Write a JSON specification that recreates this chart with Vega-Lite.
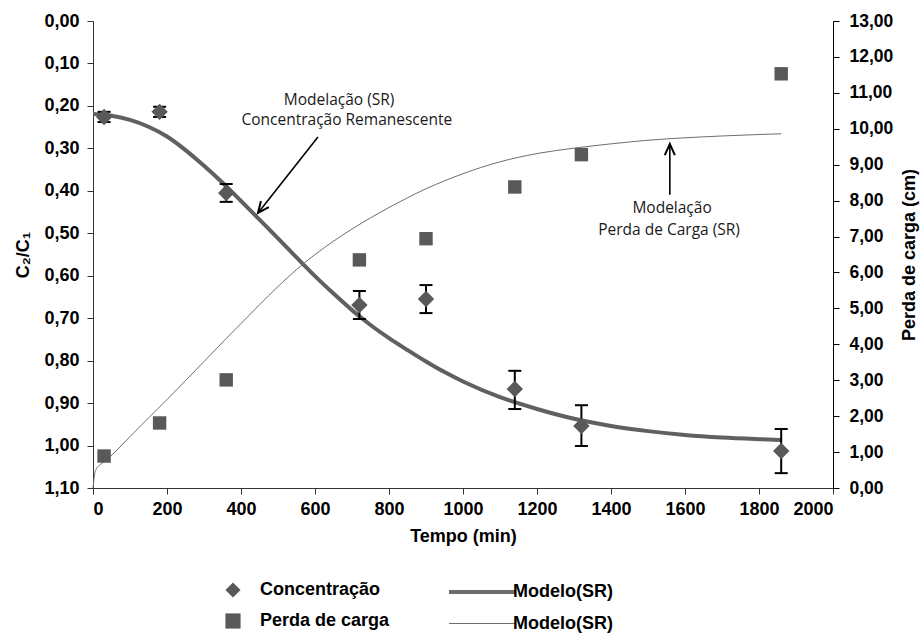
{
  "$schema": "https://vega.github.io/schema/vega-lite/v6.json",
  "width": 740,
  "height": 467,
  "autosize": "none",
  "padding": {"left": 93, "top": 21, "right": 91, "bottom": 146},
  "background": "white",
  "config": {
    "view": {"stroke": null},
    "axis": {
      "grid": false,
      "labelFont": "Liberation Sans",
      "labelFontWeight": "bold",
      "labelFontSize": 18,
      "labelColor": "black",
      "labelOverlap": false,
      "labelSeparation": -30,
      "titleFont": "Liberation Sans",
      "titleFontWeight": "bold",
      "titleFontSize": 18,
      "titleColor": "black",
      "domainColor": "#333333",
      "tickColor": "#333333",
      "tickSize": 6
    },
    "axisRight": {"labelOverlap": false, "labelSeparation": -30}
  },
  "datasets": {
    "conc": [
      {"t": 30, "c": 0.226, "lo": 0.214, "hi": 0.238, "serie": "Concentração"},
      {"t": 180, "c": 0.214, "lo": 0.202, "hi": 0.226, "serie": "Concentração"},
      {"t": 360, "c": 0.405, "lo": 0.384, "hi": 0.426, "serie": "Concentração"},
      {"t": 720, "c": 0.669, "lo": 0.636, "hi": 0.702, "serie": "Concentração"},
      {"t": 900, "c": 0.655, "lo": 0.622, "hi": 0.688, "serie": "Concentração"},
      {"t": 1140, "c": 0.867, "lo": 0.824, "hi": 0.914, "serie": "Concentração"},
      {"t": 1320, "c": 0.954, "lo": 0.905, "hi": 1.001, "serie": "Concentração"},
      {"t": 1860, "c": 1.013, "lo": 0.961, "hi": 1.065, "serie": "Concentração"}
    ],
    "perda": [
      {"t": 30, "p": 0.89, "serie": "Perda de carga"},
      {"t": 180, "p": 1.81, "serie": "Perda de carga"},
      {"t": 360, "p": 3.01, "serie": "Perda de carga"},
      {"t": 720, "p": 6.35, "serie": "Perda de carga"},
      {"t": 900, "p": 6.94, "serie": "Perda de carga"},
      {"t": 1140, "p": 8.38, "serie": "Perda de carga"},
      {"t": 1320, "p": 9.28, "serie": "Perda de carga"},
      {"t": 1860, "p": 11.53, "serie": "Perda de carga"}
    ],
    "modc": [
      {"t": 0, "c": 0.219, "modelo": "mc"},
      {"t": 50, "c": 0.223, "modelo": "mc"},
      {"t": 100, "c": 0.233, "modelo": "mc"},
      {"t": 150, "c": 0.249, "modelo": "mc"},
      {"t": 200, "c": 0.272, "modelo": "mc"},
      {"t": 250, "c": 0.304, "modelo": "mc"},
      {"t": 300, "c": 0.341, "modelo": "mc"},
      {"t": 350, "c": 0.381, "modelo": "mc"},
      {"t": 400, "c": 0.424, "modelo": "mc"},
      {"t": 450, "c": 0.468, "modelo": "mc"},
      {"t": 500, "c": 0.512, "modelo": "mc"},
      {"t": 550, "c": 0.557, "modelo": "mc"},
      {"t": 600, "c": 0.601, "modelo": "mc"},
      {"t": 650, "c": 0.642, "modelo": "mc"},
      {"t": 700, "c": 0.681, "modelo": "mc"},
      {"t": 750, "c": 0.716, "modelo": "mc"},
      {"t": 800, "c": 0.747, "modelo": "mc"},
      {"t": 850, "c": 0.775, "modelo": "mc"},
      {"t": 900, "c": 0.802, "modelo": "mc"},
      {"t": 950, "c": 0.827, "modelo": "mc"},
      {"t": 1000, "c": 0.849, "modelo": "mc"},
      {"t": 1100, "c": 0.886, "modelo": "mc"},
      {"t": 1200, "c": 0.914, "modelo": "mc"},
      {"t": 1300, "c": 0.937, "modelo": "mc"},
      {"t": 1400, "c": 0.954, "modelo": "mc"},
      {"t": 1500, "c": 0.966, "modelo": "mc"},
      {"t": 1600, "c": 0.975, "modelo": "mc"},
      {"t": 1700, "c": 0.981, "modelo": "mc"},
      {"t": 1800, "c": 0.985, "modelo": "mc"},
      {"t": 1860, "c": 0.987, "modelo": "mc"}
    ],
    "modp": [
      {"t": 0, "p": 0.0, "modelo": "mp"},
      {"t": 4, "p": 0.35, "modelo": "mp"},
      {"t": 10, "p": 0.55, "modelo": "mp"},
      {"t": 20, "p": 0.65, "modelo": "mp"},
      {"t": 46, "p": 0.87, "modelo": "mp"},
      {"t": 100, "p": 1.43, "modelo": "mp"},
      {"t": 150, "p": 1.95, "modelo": "mp"},
      {"t": 200, "p": 2.46, "modelo": "mp"},
      {"t": 250, "p": 2.99, "modelo": "mp"},
      {"t": 300, "p": 3.52, "modelo": "mp"},
      {"t": 361, "p": 4.17, "modelo": "mp"},
      {"t": 400, "p": 4.58, "modelo": "mp"},
      {"t": 450, "p": 5.1, "modelo": "mp"},
      {"t": 500, "p": 5.61, "modelo": "mp"},
      {"t": 550, "p": 6.08, "modelo": "mp"},
      {"t": 600, "p": 6.5, "modelo": "mp"},
      {"t": 650, "p": 6.87, "modelo": "mp"},
      {"t": 700, "p": 7.21, "modelo": "mp"},
      {"t": 750, "p": 7.52, "modelo": "mp"},
      {"t": 800, "p": 7.81, "modelo": "mp"},
      {"t": 850, "p": 8.08, "modelo": "mp"},
      {"t": 900, "p": 8.33, "modelo": "mp"},
      {"t": 950, "p": 8.55, "modelo": "mp"},
      {"t": 1000, "p": 8.75, "modelo": "mp"},
      {"t": 1100, "p": 9.08, "modelo": "mp"},
      {"t": 1200, "p": 9.31, "modelo": "mp"},
      {"t": 1300, "p": 9.46, "modelo": "mp"},
      {"t": 1400, "p": 9.58, "modelo": "mp"},
      {"t": 1500, "p": 9.68, "modelo": "mp"},
      {"t": 1600, "p": 9.75, "modelo": "mp"},
      {"t": 1700, "p": 9.8, "modelo": "mp"},
      {"t": 1800, "p": 9.84, "modelo": "mp"},
      {"t": 1860, "p": 9.86, "modelo": "mp"}
    ],
    "notesL": [
      {"t": 665, "c": 0.186, "label": "Modelação (SR)"},
      {"t": 686, "c": 0.233, "label": "Concentração Remanescente"}
    ],
    "arrowL": [{"t": 608, "c": 0.273, "t2": 446, "c2": 0.452}],
    "notesR": [
      {"t": 1565, "p": 7.8, "label": "Modelação"},
      {"t": 1557, "p": 7.19, "label": "Perda de Carga (SR)"}
    ],
    "arrowR": [{"t": 1559, "p": 8.16, "t2": 1559, "p2": 9.58}]
  },
  "layer": [
    {
      "layer": [
        {
          "data": {"name": "modc"},
          "mark": {"type": "line", "color": "#5f6062", "interpolate": "monotone"},
          "encoding": {
            "x": {"field": "t", "type": "quantitative", "scale": {"domain": [0, 2000], "nice": false},
              "axis": {"orient": "bottom", "values": [0, 200, 400, 600, 800, 1000, 1200, 1400, 1600, 1800, 2000], "format": "d", "title": "Tempo (min)", "labelPadding": 6, "titlePadding": 9, "labelOverlap": false}},
            "y": {"field": "c", "type": "quantitative", "scale": {"domain": [0, 1.1], "reverse": true, "nice": false, "zero": false},
              "axis": {"orient": "left", "values": [0, 0.1, 0.2, 0.3, 0.4, 0.5, 0.6, 0.7, 0.8, 0.9, 1.0, 1.1], "labelExpr": "replace(format(datum.value, '.2f'), '.', ',')", "title": "C₂/C₁", "labelPadding": 8, "titlePadding": 11, "labelOverlap": false}},
            "strokeWidth": {"field": "modelo", "type": "nominal", "scale": {"domain": ["mc", "mp"], "range": [4, 1]},
              "legend": {"title": null, "orient": "none", "legendX": 376, "legendY": 558, "direction": "vertical", "padding": 0, "rowPadding": 11, "symbolType": "M-3,0L3,0", "symbolSize": 484, "symbolStrokeColor": "#5f6062", "labelExpr": "'Modelo(SR)'", "labelOffset": 18, "labelFont": "Liberation Sans", "labelFontWeight": "bold", "labelFontSize": 18, "labelColor": "black"}}
          }
        },
        {
          "data": {"name": "conc"},
          "mark": {"type": "rule", "color": "black", "strokeWidth": 2},
          "encoding": {
            "x": {"field": "t", "type": "quantitative", "scale": {"domain": [0, 2000], "nice": false}},
            "y": {"field": "lo", "type": "quantitative", "scale": {"domain": [0, 1.1], "reverse": true, "nice": false, "zero": false}},
            "y2": {"field": "hi"}
          }
        },
        {
          "data": {"name": "conc"},
          "mark": {"type": "tick", "orient": "horizontal", "color": "black", "size": 13, "thickness": 2, "opacity": 1},
          "encoding": {
            "x": {"field": "t", "type": "quantitative", "scale": {"domain": [0, 2000], "nice": false}},
            "y": {"field": "lo", "type": "quantitative", "scale": {"domain": [0, 1.1], "reverse": true, "nice": false, "zero": false}}
          }
        },
        {
          "data": {"name": "conc"},
          "mark": {"type": "tick", "orient": "horizontal", "color": "black", "size": 13, "thickness": 2, "opacity": 1},
          "encoding": {
            "x": {"field": "t", "type": "quantitative", "scale": {"domain": [0, 2000], "nice": false}},
            "y": {"field": "hi", "type": "quantitative", "scale": {"domain": [0, 1.1], "reverse": true, "nice": false, "zero": false}}
          }
        },
        {
          "data": {"name": "conc"},
          "mark": {"type": "point", "filled": true, "color": "#58595b", "size": 270, "opacity": 1, "strokeWidth": 0},
          "encoding": {
            "x": {"field": "t", "type": "quantitative", "scale": {"domain": [0, 2000], "nice": false}},
            "y": {"field": "c", "type": "quantitative", "scale": {"domain": [0, 1.1], "reverse": true, "nice": false, "zero": false}},
            "shape": {"field": "serie", "type": "nominal", "scale": {"domain": ["Concentração", "Perda de carga"], "range": ["diamond", "square"]},
              "legend": {"title": null, "orient": "none", "legendX": 131, "legendY": 560, "direction": "vertical", "padding": 0, "rowPadding": 13, "symbolSize": 230, "symbolFillColor": "#58595b", "symbolStrokeColor": "#58595b", "symbolStrokeWidth": 0, "labelOffset": 18, "labelFont": "Liberation Sans", "labelFontWeight": "bold", "labelFontSize": 18, "labelColor": "black"}}
          }
        },
        {
          "data": {"name": "notesL"},
          "mark": {"type": "text", "font": "Open Sans", "fontSize": 15.5, "color": "#1a1a1a", "align": "center", "baseline": "middle"},
          "encoding": {
            "x": {"field": "t", "type": "quantitative", "scale": {"domain": [0, 2000], "nice": false}},
            "y": {"field": "c", "type": "quantitative", "scale": {"domain": [0, 1.1], "reverse": true, "nice": false, "zero": false}},
            "text": {"field": "label"}
          }
        },
        {
          "data": {"name": "arrowL"},
          "mark": {"type": "rule", "color": "black", "strokeWidth": 1.6},
          "encoding": {
            "x": {"field": "t", "type": "quantitative", "scale": {"domain": [0, 2000], "nice": false}},
            "y": {"field": "c", "type": "quantitative", "scale": {"domain": [0, 1.1], "reverse": true, "nice": false, "zero": false}},
            "x2": {"field": "t2"},
            "y2": {"field": "c2"}
          }
        },
        {
          "data": {"name": "arrowL"},
          "mark": {"type": "point", "shape": "M-0.45,1L0,0L0.45,1", "filled": false, "color": "black", "strokeWidth": 2, "size": 500, "angle": 218, "opacity": 1},
          "encoding": {
            "x": {"field": "t2", "type": "quantitative", "scale": {"domain": [0, 2000], "nice": false}},
            "y": {"field": "c2", "type": "quantitative", "scale": {"domain": [0, 1.1], "reverse": true, "nice": false, "zero": false}}
          }
        }
      ]
    },
    {
      "layer": [
        {
          "data": {"name": "modp"},
          "mark": {"type": "line", "color": "#6d6e70", "interpolate": "monotone"},
          "encoding": {
            "x": {"field": "t", "type": "quantitative", "scale": {"domain": [0, 2000], "nice": false}},
            "y": {"field": "p", "type": "quantitative", "scale": {"domain": [0, 13], "nice": false, "zero": true},
              "axis": {"orient": "right", "values": [0, 1, 2, 3, 4, 5, 6, 7, 8, 9, 10, 11, 12, 13], "tickCount": 14, "labelOverlap": false, "labelSeparation": -30, "labelBound": false, "labelFontSize": 17.5, "labelExpr": "replace(format(datum.value, '.2f'), '.', ',')", "title": "Perda de carga (cm)", "titleAngle": 270, "titleBaseline": "top", "labelPadding": 10, "titlePadding": 8, "domainColor": "black", "tickColor": "black"}},
            "strokeWidth": {"field": "modelo", "type": "nominal", "scale": {"domain": ["mc", "mp"], "range": [4, 1]}}
          }
        },
        {
          "data": {"name": "perda"},
          "mark": {"type": "point", "filled": true, "color": "#58595b", "size": 180, "opacity": 1, "strokeWidth": 0},
          "encoding": {
            "x": {"field": "t", "type": "quantitative", "scale": {"domain": [0, 2000], "nice": false}},
            "y": {"field": "p", "type": "quantitative", "scale": {"domain": [0, 13], "nice": false, "zero": true}},
            "shape": {"field": "serie", "type": "nominal", "scale": {"domain": ["Concentração", "Perda de carga"], "range": ["diamond", "square"]}}
          }
        },
        {
          "data": {"name": "notesR"},
          "mark": {"type": "text", "font": "Open Sans", "fontSize": 15.5, "color": "#1a1a1a", "align": "center", "baseline": "middle"},
          "encoding": {
            "x": {"field": "t", "type": "quantitative", "scale": {"domain": [0, 2000], "nice": false}},
            "y": {"field": "p", "type": "quantitative", "scale": {"domain": [0, 13], "nice": false, "zero": true}},
            "text": {"field": "label"}
          }
        },
        {
          "data": {"name": "arrowR"},
          "mark": {"type": "rule", "color": "black", "strokeWidth": 1.6},
          "encoding": {
            "x": {"field": "t", "type": "quantitative", "scale": {"domain": [0, 2000], "nice": false}},
            "y": {"field": "p", "type": "quantitative", "scale": {"domain": [0, 13], "nice": false, "zero": true}},
            "x2": {"field": "t2"},
            "y2": {"field": "p2"}
          }
        },
        {
          "data": {"name": "arrowR"},
          "mark": {"type": "point", "shape": "M-0.45,1L0,0L0.45,1", "filled": false, "color": "black", "strokeWidth": 2, "size": 500, "angle": 0, "opacity": 1},
          "encoding": {
            "x": {"field": "t2", "type": "quantitative", "scale": {"domain": [0, 2000], "nice": false}},
            "y": {"field": "p2", "type": "quantitative", "scale": {"domain": [0, 13], "nice": false, "zero": true}}
          }
        }
      ]
    }
  ],
  "resolve": {"scale": {"y": "independent"}}
}
